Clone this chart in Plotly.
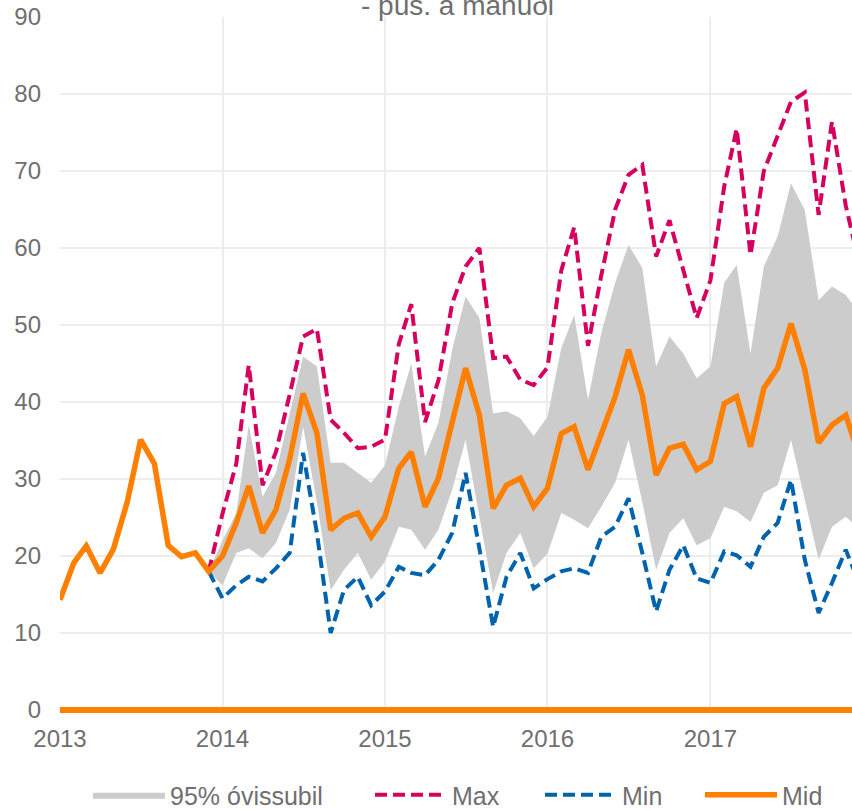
import plotly.graph_objects as go
import pandas as pd

months = pd.date_range("2013-01-01", "2017-12-01", freq="MS")

mid = [14.3, 19.1, 21.3, 17.8, 20.9, 27.0, 35.1, 32.0, 21.4, 19.9, 20.4, 18.0,
       20.0, 24.3, 29.1, 23.0, 26.0, 32.6, 41.1, 36.0, 23.4, 24.9, 25.6, 22.5,
       25.1, 31.4, 33.5, 26.4, 30.1, 37.3, 44.4, 38.3, 26.2, 29.2, 30.1, 26.4,
       28.8, 35.9, 36.8, 31.2, 36.0, 40.7, 46.8, 40.9, 30.5, 34.0, 34.5, 31.2,
       32.3, 39.8, 40.7, 34.2, 41.8, 44.4, 50.2, 44.2, 34.7, 37.0, 38.3, 33.0]

# forecast series start Dec 2013 (index 11)
fc_start = 11
max_v = [18.0, 25.5, 32.0, 44.8, 29.2, 33.5, 41.0, 48.5, 49.5, 37.7, 36.0, 34.0, 34.2,
         35.1, 47.5, 52.7, 37.4, 42.8, 52.8, 57.6, 60.0, 45.7, 45.9, 42.9, 42.2,
         44.5, 57.1, 62.7, 47.3, 56.5, 65.0, 69.5, 70.8, 58.9, 63.6, 57.1, 50.9,
         55.8, 68.0, 75.5, 59.1, 70.0, 74.5, 79.0, 80.2, 64.3, 76.4, 65.5, 58.0]
min_v = [18.0, 14.5, 16.2, 17.3, 16.7, 18.4, 20.4, 33.4, 23.0, 10.0, 15.6, 17.3, 13.6,
         15.4, 18.6, 17.8, 17.5, 19.5, 23.0, 30.8, 21.0, 10.8, 17.3, 20.4, 15.8,
         17.0, 18.0, 18.4, 17.8, 22.5, 23.8, 27.5, 20.4, 12.8, 18.2, 21.4, 17.1,
         16.5, 20.6, 20.1, 18.6, 22.5, 24.3, 29.9, 19.5, 12.6, 16.5, 20.8, 16.5]
upper = [18.0, 22.0, 25.6, 37.0, 27.7, 30.8, 38.5, 45.9, 44.6, 32.1, 32.1, 30.8, 29.5,
         31.8, 39.4, 45.0, 32.9, 37.3, 46.8, 53.7, 50.9, 38.5, 38.8, 37.9, 35.6,
         38.1, 47.0, 51.3, 40.3, 49.0, 55.5, 60.4, 57.4, 44.6, 48.5, 46.3, 43.1,
         44.6, 55.5, 57.8, 46.3, 57.6, 61.5, 68.4, 64.9, 53.2, 55.0, 53.9, 51.5]
lower = [18.0, 16.2, 20.4, 21.0, 19.7, 21.7, 26.0, 36.8, 27.0, 15.6, 18.2, 20.4, 16.9,
         19.3, 23.8, 23.4, 20.8, 23.4, 28.6, 35.1, 25.1, 15.2, 20.4, 23.0, 18.4,
         20.3, 25.6, 24.7, 23.6, 26.4, 29.5, 35.1, 27.0, 18.2, 23.0, 24.9, 21.4,
         22.3, 26.4, 25.8, 24.4, 28.2, 29.2, 35.1, 27.3, 19.5, 23.8, 25.1, 23.5]

year_ticks = ["2013-01-01", "2014-01-01", "2015-01-01", "2016-01-01", "2017-01-01"]
year_labels = ["2013", "2014", "2015", "2016", "2017"]

fc_x = months[fc_start:]

TXT = "#6f6f6f"
FONT = "Liberation Sans, Arial, sans-serif"

W, H = 852, 810
ML, MR, MT, MB = 60, 0, 17, 100
PW = W - ML - MR
PH = H - MT - MB


def lx(px):
    return (px - ML) / PW


def ly(py):
    return (H - MB - py) / PH


leg_common = dict(orientation="h", yanchor="middle", y=ly(795), xanchor="left",
                  font=dict(size=25, color=TXT, family=FONT), itemwidth=72,
                  bgcolor="rgba(0,0,0,0)", borderwidth=0)

fig = go.Figure()
fig.add_trace(go.Scatter(x=fc_x, y=lower, mode="lines", line=dict(width=0, color="#cccccc"),
                         showlegend=False, hoverinfo="skip"))
fig.add_trace(go.Scatter(x=fc_x, y=upper, mode="lines", line=dict(width=0, color="#cccccc"),
                         fill="tonexty", fillcolor="#cccccc", name="95% óvissubil",
                         legend="legend"))
fig.add_trace(go.Scatter(x=fc_x, y=max_v, mode="lines", name="Max", legend="legend2",
                         line=dict(color="#d6005f", width=4, dash="12px,6px")))
fig.add_trace(go.Scatter(x=fc_x, y=min_v, mode="lines", name="Min", legend="legend3",
                         line=dict(color="#0063ad", width=4, dash="12px,6px")))
fig.add_trace(go.Scatter(x=months, y=mid, mode="lines", name="Mid", legend="legend4",
                         line=dict(color="#ff7f00", width=5.5)))

fig.add_annotation(text="- þús. á mánuði", x=0.502, xref="paper", y=1, yref="paper",
                   yanchor="bottom", yshift=-6, showarrow=False,
                   font=dict(size=28, color=TXT, family=FONT))

fig.update_layout(
    width=W, height=H,
    margin=dict(l=ML, r=MR, t=MT, b=MB, autoexpand=False),
    paper_bgcolor="white", plot_bgcolor="white",
    font=dict(family=FONT, color=TXT, size=24),
    showlegend=True,
    legend=dict(leg_common, x=lx(88)),
    legend2=dict(leg_common, x=lx(370)),
    legend3=dict(leg_common, x=lx(540)),
    legend4=dict(leg_common, x=lx(700)),
    xaxis=dict(type="date", range=["2013-01-01", "2017-11-15"],
               tickvals=year_ticks, ticktext=year_labels,
               showgrid=True, gridcolor="#ededed", gridwidth=1.5,
               showline=False, zeroline=False, ticks="", automargin=False,
               ticklabelstandoff=12, tickfont=dict(size=24, color=TXT)),
    yaxis=dict(range=[0, 90], dtick=10, showgrid=True, gridcolor="#ededed", gridwidth=1.5,
               zeroline=True, zerolinecolor="#ff7f00", zerolinewidth=5.5,
               showline=False, ticks="", ticklabelstandoff=18, automargin=False,
               tickfont=dict(size=24, color=TXT)),
)

fig.write_html("out.html", config={"displayModeBar": False},
               post_script="document.body.style.margin='0';document.body.style.overflow='hidden';")
